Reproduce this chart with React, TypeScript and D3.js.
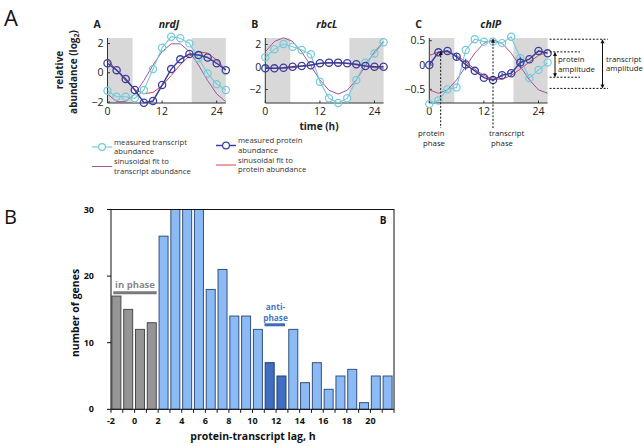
import React from "react";
import * as d3 from "d3";

// ---------- Panel A data ----------
const hours = [0, 2, 4, 6, 8, 10, 12, 14, 16, 18, 20, 22, 24, 26];
const darkPeriods: [number, number][] = [[0, 5.5], [18.5, 26]];
const timeTicks = [0, 12, 24];

const nrdJTranscript = [-1.23, -1.64, -1.64, -1.75, -1.18, 0.25, 1.71, 2.47, 2.36, 2.01, 0.99, -0.05, -0.78, -1.18];
const nrdJProtein = [0.65, 0.18, -0.43, -1.18, -2.05, -1.93, -0.84, 0.25, 0.92, 1.28, 1.21, 1.05, 0.65, 0.18];
const nrdJTranscriptFit = [-1.45, -1.98, -1.98, -1.45, -0.53, 0.53, 1.45, 1.98, 1.98, 1.45, 0.53, -0.53, -1.45, -1.98];
const nrdJProteinFit = [0.88, 0.19, -0.55, -1.15, -1.44, -1.34, -0.88, -0.19, 0.55, 1.15, 1.44, 1.34, 0.88, 0.19];

const rbcLTranscript = [0.86, 1.57, 2.04, 1.8, 1.51, 1.13, -1.31, -2.78, -3.2, -2.78, -1.16, 0.38, 1.2, 2.2];
const rbcLProtein = [-0.12, -0.12, -0.06, 0.03, 0.09, 0.15, 0.33, 0.39, 0.39, 0.33, 0.24, 0.09, 0.03, 0.03];
const rbcLTranscriptFit = [1.35, 2.27, 2.6, 2.27, 1.35, 0.1, -1.15, -2.07, -2.4, -2.07, -1.15, 0.1, 1.35, 2.27];
const rbcLProteinFit = [-0.06, -0.12, -0.12, -0.06, 0.055, 0.185, 0.3, 0.36, 0.36, 0.3, 0.185, 0.055, -0.06, -0.12];

const chlPTranscript = [-0.8, -0.73, -0.5, -0.46, 0.31, 0.53, 0.48, 0.48, 0.45, 0.58, 0.14, -0.27, -0.1, 0.05];
const chlPProtein = [0.0, 0.26, 0.29, 0.17, 0.01, -0.12, -0.26, -0.31, -0.21, -0.17, 0.05, 0.12, 0.29, 0.24];
const chlPProteinErr = [0, 0, 0, 0.06, 0.12, 0, 0, 0, 0.05, 0.05, 0.12, 0, 0, 0];
const chlPTranscriptFit = [-0.51, -0.58, -0.51, -0.305, -0.03, 0.245, 0.446, 0.52, 0.446, 0.245, -0.03, -0.305, -0.51, -0.58];
const chlPProteinFit = [0.195, 0.27, 0.27, 0.195, 0.065, -0.085, -0.215, -0.29, -0.29, -0.215, -0.085, 0.065, 0.195, 0.27];

const chlPProteinPhase = 2.5;
const chlPTranscriptPhase = 14;
const chlPTranscriptAmp = [0.53, -0.48];
const chlPProteinAmp = [0.27, -0.25];

// ---------- Panel B data ----------
const lagBins = [-2, -1, 0, 1, 2, 3, 4, 5, 6, 7, 8, 9, 10, 11, 12, 13, 14, 15, 16, 17, 18, 19, 20, 21];
const geneCounts = [17, 15, 12, 13, 26, 30, 30, 30, 18, 21, 14, 14, 12, 7, 5, 12, 4, 7, 3, 5, 6, 1, 5, 5];
const binGroups = ["in", "in", "in", "in", "lag", "lag", "lag", "lag", "lag", "lag", "lag", "lag", "lag", "anti", "anti", "lag", "lag", "lag", "lag", "lag", "lag", "lag", "lag", "lag"];
const lagTickLabels = [-2, 0, 2, 4, 6, 8, 10, 12, 14, 16, 18, 20];
const countTicks = [0, 10, 20, 30];

const FONT = "'Open Sans', 'Liberation Sans', sans-serif";
const C_TRANS = "#74c9d9";
const C_PROT = "#3c3f9b";
const C_TFIT = "#a8529a";
const C_PFIT = "#d8404e";
const C_BAND = "#d8d8d8";

const A_TOP = 38;
const A_BOTTOM = 103;
const A_WIDTH = 118.3;

type Sub = {
  letter: string; gene: string; left: number; yDomain: [number, number]; yTicks: number[];
  transcript: number[]; protein: number[]; tFit: number[]; pFit: number[]; err?: number[];
};

const subs: Sub[] = [
  { letter: "A", gene: "nrdJ", left: 107.5, yDomain: [-2.07, 2.38], yTicks: [-2, 0, 2],
    transcript: nrdJTranscript, protein: nrdJProtein, tFit: nrdJTranscriptFit, pFit: nrdJProteinFit },
  { letter: "B", gene: "rbcL", left: 265.3, yDomain: [-3.2, 2.58], yTicks: [-2, 0, 2],
    transcript: rbcLTranscript, protein: rbcLProtein, tFit: rbcLTranscriptFit, pFit: rbcLProteinFit },
  { letter: "C", gene: "chlP", left: 429.3, yDomain: [-0.78, 0.555], yTicks: [-0.5, 0, 0.5],
    transcript: chlPTranscript, protein: chlPProtein, tFit: chlPTranscriptFit, pFit: chlPProteinFit, err: chlPProteinErr },
];

const fmt = (v: number) => (v < 0 ? "\u2212" + String(Math.abs(v)) : String(v));

function SubPlot({ s }: { s: Sub }) {
  const x = d3.scaleLinear().domain([0, 26]).range([s.left, s.left + A_WIDTH]);
  const y = d3.scaleLinear().domain(s.yDomain).range([A_BOTTOM, A_TOP]);
  const line = d3.line<number>().x((_, i) => x(hours[i])).y((v) => y(v));
  return (
    <g>
      {darkPeriods.map((p, i) => (
        <rect key={i} x={x(p[0])} y={A_TOP} width={x(p[1]) - x(p[0])} height={A_BOTTOM - A_TOP} fill={C_BAND} />
      ))}
      <line x1={s.left} x2={s.left} y1={A_TOP} y2={A_BOTTOM} stroke="#333" strokeWidth={1} />
      <line x1={s.left} x2={s.left + A_WIDTH} y1={A_BOTTOM} y2={A_BOTTOM} stroke="#333" strokeWidth={1} />
      {s.yTicks.map((t) => (
        <g key={t}>
          <line x1={s.left} x2={s.left + 2.5} y1={y(t)} y2={y(t)} stroke="#333" />
          <text x={s.left - 4} y={y(t)} dy="0.35em" textAnchor="end" fontSize={10.5} fontFamily={FONT} fill="#222">{fmt(t)}</text>
        </g>
      ))}
      {timeTicks.map((t) => (
        <g key={t}>
          <line x1={x(t)} x2={x(t)} y1={A_BOTTOM} y2={A_BOTTOM - 2.5} stroke="#333" />
          <text x={x(t)} y={A_BOTTOM + 12} textAnchor="middle" fontSize={10.5} fontFamily={FONT} fill="#222">{t}</text>
        </g>
      ))}
      <path d={line(s.tFit) || ""} fill="none" stroke={C_TFIT} strokeWidth={1} />
      <path d={line(s.pFit) || ""} fill="none" stroke={C_PFIT} strokeWidth={1} />
      <path d={line(s.transcript) || ""} fill="none" stroke={C_TRANS} strokeWidth={1.1} />
      {s.transcript.map((v, i) => (
        <circle key={i} cx={x(hours[i])} cy={y(v)} r={3.6} fill="none" stroke={C_TRANS} strokeWidth={1.2} />
      ))}
      {s.err && s.err.map((e, i) => e > 0 ? (
        <line key={"e" + i} x1={x(hours[i])} x2={x(hours[i])} y1={y(s.protein[i] - e)} y2={y(s.protein[i] + e)} stroke={C_PROT} strokeWidth={1} />
      ) : null)}
      <path d={line(s.protein) || ""} fill="none" stroke={C_PROT} strokeWidth={1.5} />
      {s.protein.map((v, i) => (
        <circle key={i} cx={x(hours[i])} cy={y(v)} r={3.6} fill="none" stroke={C_PROT} strokeWidth={1.3} />
      ))}
      <text x={s.left - 14} y={28} fontSize={10.5} fontWeight="bold" fontFamily={FONT} fill="#222">{s.letter}</text>
      <text x={s.left + A_WIDTH * 0.52} y={28} textAnchor="middle" fontSize={10.5} fontWeight="bold" fontStyle="italic" fontFamily={FONT} fill="#222">{s.gene}</text>
    </g>
  );
}

function ChlPAnnotations() {
  const s = subs[2];
  const x = d3.scaleLinear().domain([0, 26]).range([s.left, s.left + A_WIDTH]);
  const y = d3.scaleLinear().domain(s.yDomain).range([A_BOTTOM, A_TOP]);
  const right = s.left + A_WIDTH;
  const dash = "2,1.6";
  const fs = 7.8;
  return (
    <g fontFamily={FONT} fill="#222">
      <line x1={x(chlPProteinPhase)} x2={x(chlPProteinPhase)} y1={y(chlPProteinFit[1])} y2={128} stroke="#111" strokeDasharray={dash} />
      <path d={`M${x(chlPProteinPhase)},${y(chlPProteinFit[1]) - 1} l-2,4 l4,0 z`} fill="#111" />
      <line x1={x(chlPTranscriptPhase)} x2={x(chlPTranscriptPhase)} y1={y(chlPTranscriptFit[7])} y2={128} stroke="#111" strokeDasharray={dash} />
      <path d={`M${x(chlPTranscriptPhase)},${y(chlPTranscriptFit[7]) - 1} l-2,4 l4,0 z`} fill="#111" />
      <text x={418} y={135.5} fontSize={fs}>protein</text>
      <text x={423} y={145.5} fontSize={fs}>phase</text>
      <text x={489} y={135.5} fontSize={fs}>transcript</text>
      <text x={491} y={145.5} fontSize={fs}>phase</text>

      <line x1={right + 2} x2={608} y1={y(chlPTranscriptAmp[0])} y2={y(chlPTranscriptAmp[0])} stroke="#111" strokeDasharray={dash} />
      <line x1={right + 2} x2={608} y1={y(chlPTranscriptAmp[1])} y2={y(chlPTranscriptAmp[1])} stroke="#111" strokeDasharray={dash} />
      <line x1={right + 2} x2={580} y1={y(chlPProteinAmp[0])} y2={y(chlPProteinAmp[0])} stroke="#111" strokeDasharray={dash} />
      <line x1={right + 2} x2={580} y1={y(chlPProteinAmp[1])} y2={y(chlPProteinAmp[1])} stroke="#111" strokeDasharray={dash} />
      <line x1={555} x2={555} y1={y(chlPProteinAmp[0]) + 1} y2={y(chlPProteinAmp[1]) - 1} stroke="#111" strokeWidth={1} />
      <path d={`M555,${y(chlPProteinAmp[0])} l-2,4 l4,0 z`} fill="#111" />
      <path d={`M555,${y(chlPProteinAmp[1])} l-2,-4 l4,0 z`} fill="#111" />
      <line x1={602.5} x2={602.5} y1={y(chlPTranscriptAmp[0]) + 1} y2={y(chlPTranscriptAmp[1]) - 1} stroke="#111" strokeWidth={1} />
      <path d={`M602.5,${y(chlPTranscriptAmp[0])} l-2,4 l4,0 z`} fill="#111" />
      <path d={`M602.5,${y(chlPTranscriptAmp[1])} l-2,-4 l4,0 z`} fill="#111" />
      <text x={558} y={62} fontSize={fs}>protein</text>
      <text x={558} y={71.8} fontSize={fs}>amplitude</text>
      <text x={606} y={61.5} fontSize={fs}>transcript</text>
      <text x={606} y={71.3} fontSize={fs}>amplitude</text>
    </g>
  );
}

function Legend() {
  const fs = 7.7;
  const items = [
    { x: 92, y: 147, color: C_TRANS, marker: true, w: 1.1, lines: ["measured transcript", "abundance"] },
    { x: 216, y: 145.5, color: C_PROT, marker: true, w: 1.5, lines: ["measured protein", "abundance"] },
    { x: 92, y: 166.5, color: C_TFIT, marker: false, w: 1, lines: ["sinusoidal fit to", "transcript abundance"] },
    { x: 216, y: 165, color: C_PFIT, marker: false, w: 1, lines: ["sinusoidal fit to", "protein abundance"] },
  ];
  return (
    <g fontFamily={FONT}>
      {items.map((it, i) => (
        <g key={i}>
          <line x1={it.x} x2={it.x + 20} y1={it.y} y2={it.y} stroke={it.color} strokeWidth={it.w} />
          {it.marker && <circle cx={it.x + 10} cy={it.y} r={3.4} fill="#fff" stroke={it.color} strokeWidth={1.2} />}
          <text x={it.x + 22} y={it.y - 2.3} fontSize={fs} fill="#333">{it.lines[0]}</text>
          <text x={it.x + 22} y={it.y + 7} fontSize={fs} fill="#333">{it.lines[1]}</text>
        </g>
      ))}
    </g>
  );
}

function PanelB() {
  const left = 111, right = 394, top = 209.5, bottom = 409.3;
  const x = d3.scaleLinear().domain([-2, 22]).range([left, right]);
  const y = d3.scaleLinear().domain([0, 30]).range([bottom, top]);
  const fills: Record<string, string> = { in: "#959595", lag: "#8cbaf5", anti: "#3f6ec2" };
  const strokes: Record<string, string> = { in: "#4a4a4a", lag: "#34507c", anti: "#233f78" };
  const bw = x(1) - x(0);
  return (
    <g fontFamily={FONT}>
      {lagBins.map((b, i) => {
        const v = Math.min(geneCounts[i], 30);
        return (
          <rect key={b} x={x(b) + 0.9} y={y(v)} width={bw - 2.8} height={bottom - y(v)}
            fill={fills[binGroups[i]]} stroke={strokes[binGroups[i]]} strokeWidth={1} />
        );
      })}
      <rect x={left} y={top} width={right - left} height={bottom - top} fill="none" stroke="#111" strokeWidth={1} />
      {countTicks.map((t) => (
        <g key={t}>
          <line x1={left - 4} x2={left} y1={y(t)} y2={y(t)} stroke="#111" />
          <text x={left - 17} y={y(t)} dy="0.35em" textAnchor="end" fontSize={9} fontWeight="bold" fill="#111">{t}</text>
        </g>
      ))}
      {lagBins.concat([22]).map((t) => (
        <line key={t} x1={x(t)} x2={x(t)} y1={bottom} y2={bottom + 3.5} stroke="#111" />
      ))}
      {lagTickLabels.map((t) => (
        <text key={t} x={x(t)} y={424} textAnchor="middle" fontSize={9} fontWeight="bold" fill="#111">{t}</text>
      ))}
      <text x={253} y={440} textAnchor="middle" fontSize={10.5} fontWeight="bold" fill="#111">protein-transcript lag, h</text>
      <text transform="translate(79,313) rotate(-90)" textAnchor="middle" fontSize={10.5} fontWeight="bold" fill="#111">number of genes</text>
      <text x={383} y={224} textAnchor="middle" fontSize={10} fontWeight="bold" fill="#111">B</text>
      <text x={135} y={288} textAnchor="middle" fontSize={9.5} fontWeight="bold" fill="#8a8a8a">in phase</text>
      <line x1={113.3} x2={156.7} y1={292.7} y2={292.7} stroke="#7a7a7a" strokeWidth={3} />
      <text x={275.5} y={310} textAnchor="middle" fontSize={8.3} fontWeight="bold" fill="#4a78c2">anti-</text>
      <text x={275.5} y={320.6} textAnchor="middle" fontSize={8.3} fontWeight="bold" fill="#4a78c2">phase</text>
      <line x1={264.5} x2={285} y1={324.8} y2={324.8} stroke="#3d6bb5" strokeWidth={3} />
    </g>
  );
}

export default function App() {
  return (
    <svg width={644} height={446} style={{ position: "absolute", left: 0, top: 0, background: "#fff" }}>
      <rect width={644} height={446} fill="#fff" />
      <text x={4} y={26} fontSize={22} fontFamily={FONT} fill="#111">A</text>
      <text x={4} y={224} fontSize={20} fontFamily={FONT} fill="#111">B</text>
      {subs.map((s) => <SubPlot key={s.gene} s={s} />)}
      <ChlPAnnotations />
      <g fontFamily={FONT} fontWeight="bold" fill="#222">
        <text transform="translate(63,70) rotate(-90)" textAnchor="middle" fontSize={10}>relative</text>
        <text transform="translate(77,72) rotate(-90)" textAnchor="middle" fontSize={10}>
          abundance (log<tspan fontSize={7} dy={2}>2</tspan><tspan dy={-2}>)</tspan>
        </text>
        <text x={319} y={130} textAnchor="middle" fontSize={10}>time (h)</text>
      </g>
      <Legend />
      <PanelB />
    </svg>
  );
}
